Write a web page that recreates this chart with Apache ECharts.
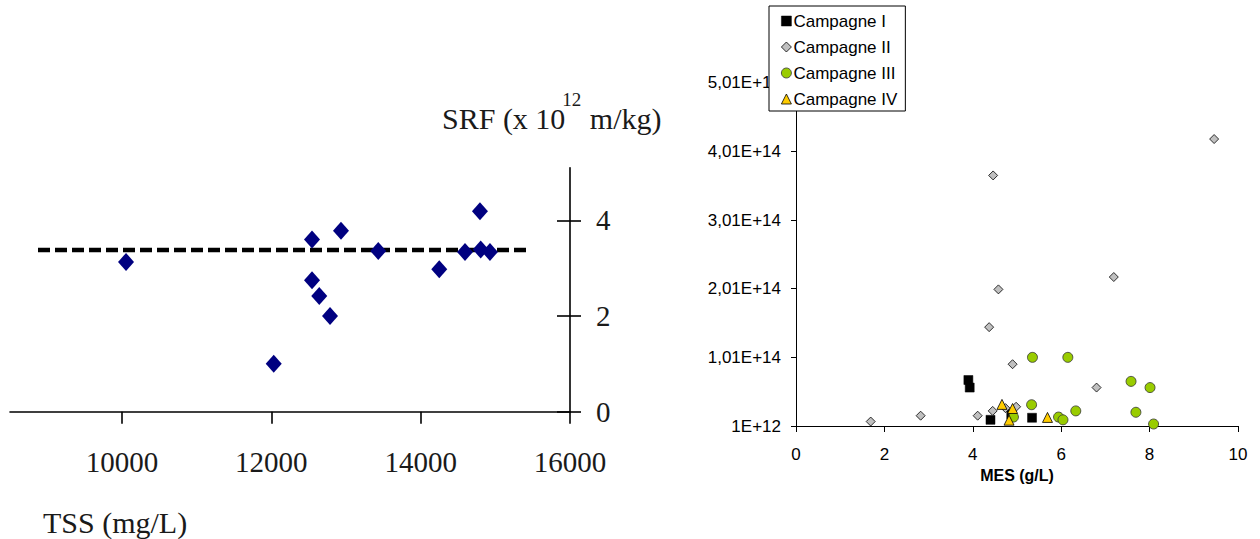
<!DOCTYPE html>
<html>
<head>
<meta charset="utf-8">
<script src="https://cdn.jsdelivr.net/npm/echarts@6/dist/echarts.min.js"></script>
<style>
html,body{margin:0;padding:0;background:#fff;}
#c{width:1260px;height:539px;}
</style>
</head>
<body>
<div id="c"></div>
<script>
// ---------- Left chart: SRF vs TSS ----------
const tssValues = [10054, 12545, 12545, 12642, 12786, 12032, 12933, 13432, 14794, 14594, 14804, 14928, 14249];
const srfValues = [3.13, 3.60, 2.75, 2.42, 2.00, 1.00, 3.78, 3.36, 4.19, 3.34, 3.39, 3.34, 2.98];
const meanLineX = [8875, 15451];
const meanLineY = [3.38, 3.38];
const leftXTicks = [10000, 12000, 14000, 16000];
const leftXLabels = ['10000', '12000', '14000', '16000'];
const leftYTicks = [0, 2, 4];
const leftYLabels = ['0', '2', '4'];
const leftYTitleParts = ['SRF (x 10', '12', ' m/kg)'];
const leftXTitle = 'TSS (mg/L)';

// ---------- Right chart: SRF vs MES ----------
const seriesNames = ['Campagne I', 'Campagne II', 'Campagne III', 'Campagne IV'];
const c1X = [3.90, 3.93, 4.40, 5.34, 4.87];
const c1Y = [6.8e13, 5.7e13, 1.0e13, 1.3e13, 1.8e13];
const c2X = [1.69, 2.82, 4.11, 4.45, 4.74, 4.98, 4.90, 4.37, 4.58, 4.46, 6.80, 7.19, 9.46];
const c2Y = [7.5e12, 1.6e13, 1.6e13, 2.3e13, 2.7e13, 2.9e13, 9.1e13, 1.45e14, 2.0e14, 3.66e14, 5.7e13, 2.18e14, 4.19e14];
const c3X = [5.35, 6.15, 7.58, 8.01, 5.33, 6.33, 7.69, 5.94, 6.04, 4.92, 8.09];
const c3Y = [1.01e14, 1.01e14, 6.6e13, 5.7e13, 3.2e13, 2.3e13, 2.1e13, 1.4e13, 1.0e13, 1.4e13, 3.9e12];
const c4X = [4.66, 4.90, 4.82, 5.69];
const c4Y = [3.25e13, 2.65e13, 9.5e12, 1.35e13];
const rightYTickValues = [1e12, 1.01e14, 2.01e14, 3.01e14, 4.01e14, 5.01e14];
const rightYTickLabels = ['1E+12', '1,01E+14', '2,01E+14', '3,01E+14', '4,01E+14', '5,01E+14'];
const rightXTicks = [0, 2, 4, 6, 8, 10];
const rightXTitle = 'MES (g/L)';

function zip(a, b) { return a.map((v, i) => [v, b[i]]); }
function labelFrom(values, labels) {
  return function (v) { const i = values.indexOf(v); return i >= 0 ? labels[i] : ''; };
}

const serif = '"Liberation Serif", "Times New Roman", serif';
const sans = '"Liberation Sans", Arial, sans-serif';
const titleFont = '30px ' + serif;
const supFont = '19px ' + serif;

const measureCtx = document.createElement('canvas').getContext('2d');
function textWidth(t, font) { measureCtx.font = font; return measureCtx.measureText(t).width; }

const styleI = {color: '#000', borderColor: '#000', borderWidth: 0.5, opacity: 1};
const styleII = {color: '#C0C0C0', borderColor: '#000', borderWidth: 0.8, opacity: 1};
const styleIII = {color: '#99CC00', borderColor: '#333', borderWidth: 0.8, opacity: 1};
const styleIV = {color: '#FFCC00', borderColor: '#000', borderWidth: 0.8, opacity: 1};

// positions of the title pieces (left chart, y axis)
const tX0 = 442;
const tX1 = tX0 + textWidth(leftYTitleParts[0], titleFont) - 3;
const tX2 = tX1 + textWidth(leftYTitleParts[1], supFont) + 1;

function txt(x, y, text, font) {
  return {
    type: 'text', x: x, y: y, silent: true,
    style: {text: text, font: font, fill: '#1a1a1a', align: 'left', verticalAlign: 'middle',
            textAlign: 'left', textVerticalAlign: 'middle'}
  };
}

const chart = echarts.init(document.getElementById('c'), null, {renderer: 'svg', width: 1260, height: 539});

const option = {
  animation: false,
  backgroundColor: '#fff',
  graphic: {
    elements: [
      txt(tX0, 118, leftYTitleParts[0], titleFont),
      txt(tX1, 99, leftYTitleParts[1], supFont),
      txt(tX2, 118, leftYTitleParts[2], titleFont),
      txt(43, 522, leftXTitle, titleFont)
    ]
  },
  legend: {
    data: [
      {name: seriesNames[0], itemStyle: styleI},
      {name: seriesNames[1], itemStyle: styleII},
      {name: seriesNames[2], itemStyle: styleIII},
      {name: seriesNames[3], itemStyle: styleIV}
    ],
    orient: 'vertical',
    left: 769, top: 6,
    width: 135,
    backgroundColor: '#fff',
    borderColor: '#000',
    borderWidth: 1,
    padding: [5, 8, 2, 12],
    itemGap: 6,
    itemWidth: 10, itemHeight: 10,
    textStyle: {fontFamily: sans, fontSize: 17, color: '#000', lineHeight: 20, padding: [0, 0, 0, -3]},
    z: 10
  },
  grid: [
    {left: 10, right: 690, top: 167.7, bottom: 127.3, containLabel: false},
    {left: 796, right: 22, top: 82.75, bottom: 113, containLabel: false}
  ],
  xAxis: [
    {
      gridIndex: 0, type: 'value', min: 8500, max: 16000,
      axisLine: {show: true, onZero: false, lineStyle: {color: '#000', width: 1.6}},
      axisTick: {show: true, length: 12, lineStyle: {color: '#000', width: 1.6}, customValues: leftXTicks},
      axisLabel: {show: true, customValues: leftXTicks, formatter: labelFrom(leftXTicks, leftXLabels),
        fontFamily: serif, fontSize: 29, color: '#1a1a1a', margin: 36},
      splitLine: {show: false}
    },
    {
      gridIndex: 1, type: 'value', min: 0, max: 10, interval: 2,
      name: rightXTitle, nameLocation: 'middle', nameGap: 40,
      nameTextStyle: {fontFamily: sans, fontSize: 16, fontWeight: 'bold', color: '#000'},
      axisLine: {show: true, onZero: false, lineStyle: {color: '#000', width: 1}},
      axisTick: {show: true, length: 6, lineStyle: {color: '#000'}, customValues: rightXTicks},
      axisLabel: {show: true, customValues: rightXTicks, fontFamily: sans, fontSize: 17, color: '#000', margin: 20},
      splitLine: {show: false}
    }
  ],
  yAxis: [
    {
      gridIndex: 0, type: 'value', min: 0, max: 5.1, position: 'right',
      axisLine: {show: true, onZero: false, lineStyle: {color: '#000', width: 1.6}},
      axisTick: {show: true, length: 11, lineStyle: {color: '#000', width: 1.6}, customValues: leftYTicks},
      axisLabel: {show: true, customValues: leftYTicks, formatter: labelFrom(leftYTicks, leftYLabels),
        fontFamily: serif, fontSize: 29, color: '#1a1a1a', margin: 26},
      splitLine: {show: false}
    },
    {
      gridIndex: 0, type: 'value', min: 0, max: 5.1, position: 'right',
      axisLine: {show: false},
      axisTick: {show: true, inside: true, length: 13, lineStyle: {color: '#000', width: 1.6}, customValues: leftYTicks},
      axisLabel: {show: false},
      splitLine: {show: false}
    },
    {
      gridIndex: 1, type: 'value', min: 1e12, max: 5.01e14,
      axisLine: {show: true, onZero: false, lineStyle: {color: '#000', width: 1}},
      axisTick: {show: true, length: 5, lineStyle: {color: '#000'}, customValues: rightYTickValues},
      axisLabel: {
        show: true, customValues: rightYTickValues, fontFamily: sans, fontSize: 17, color: '#000', margin: 15,
        formatter: labelFrom(rightYTickValues, rightYTickLabels)
      },
      splitLine: {show: false}
    }
  ],
  series: [
    {
      type: 'line', xAxisIndex: 0, yAxisIndex: 0,
      data: zip(meanLineX, meanLineY), symbol: 'none', silent: true,
      lineStyle: {color: '#000', width: 4.5, type: [12, 5]}, z: 1
    },
    {
      type: 'scatter', xAxisIndex: 0, yAxisIndex: 0,
      data: zip(tssValues, srfValues), symbol: 'diamond', symbolSize: [16, 18],
      itemStyle: {color: '#000080', opacity: 1}, z: 2
    },
    {
      name: seriesNames[0], type: 'scatter', xAxisIndex: 1, yAxisIndex: 2,
      data: zip(c1X, c1Y), symbol: 'rect', symbolSize: 9,
      itemStyle: styleI, z: 2
    },
    {
      name: seriesNames[1], type: 'scatter', xAxisIndex: 1, yAxisIndex: 2,
      data: zip(c2X, c2Y), symbol: 'diamond', symbolSize: 9,
      itemStyle: styleII, z: 3
    },
    {
      name: seriesNames[2], type: 'scatter', xAxisIndex: 1, yAxisIndex: 2,
      data: zip(c3X, c3Y), symbol: 'circle', symbolSize: 10,
      itemStyle: styleIII, z: 4
    },
    {
      name: seriesNames[3], type: 'scatter', xAxisIndex: 1, yAxisIndex: 2,
      data: zip(c4X, c4Y), symbol: 'triangle', symbolSize: 10,
      itemStyle: styleIV, z: 5
    }
  ]
};
chart.setOption(option);
</script>
</body>
</html>
